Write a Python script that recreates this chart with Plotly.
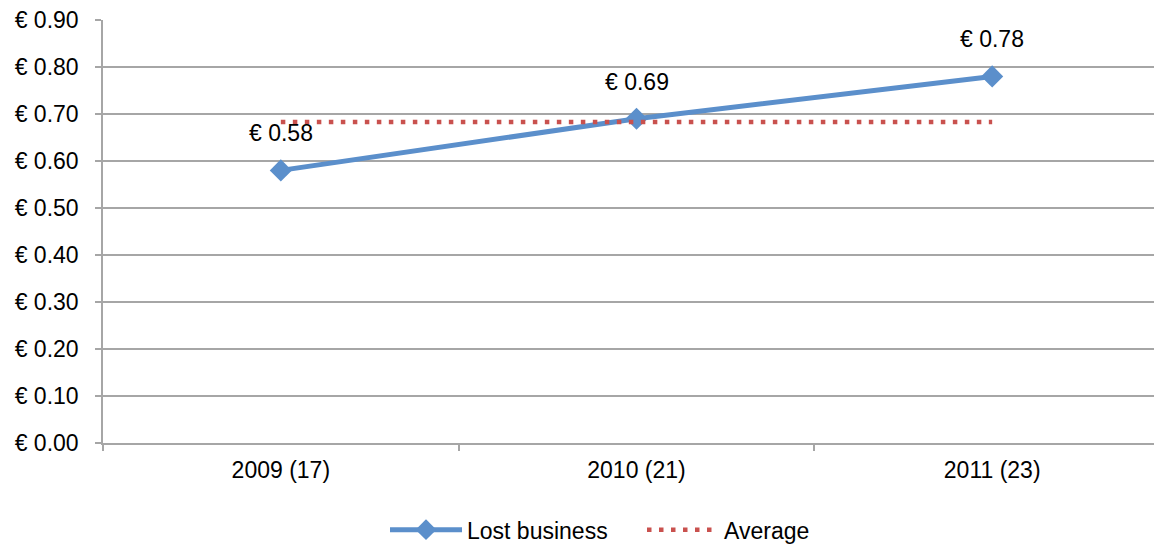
import plotly.graph_objects as go

categories = ["2009 (17)", "2010 (21)", "2011 (23)"]
lost_business = [0.58, 0.69, 0.78]
average_value = 0.683
average = [average_value] * len(categories)
y_ticks = [0.0, 0.1, 0.2, 0.3, 0.4, 0.5, 0.6, 0.7, 0.8, 0.9]
y_tick_text = ["€ %.2f" % v for v in y_ticks]
label_text = ["€ %.2f" % v for v in lost_business]

FONT = "Liberation Sans, Arial, sans-serif"
FS = 23
BLUE = "#5B8FCB"
RED = "#C9514E"
GRID = "#A6A6A6"

fig = go.Figure()
fig.add_trace(go.Scatter(
    x=categories, y=lost_business, name="Lost business",
    mode="lines+markers",
    line=dict(color=BLUE, width=5),
    marker=dict(symbol="diamond", size=17, color=BLUE),
))
fig.add_trace(go.Scatter(
    x=categories, y=average, name="Average",
    mode="lines",
    line=dict(color=RED, width=4.5, dash="4.5px,7.5px"),
))

for c, v, t in zip(categories, lost_business, label_text):
    fig.add_annotation(x=c, y=v, text=t, showarrow=False, yshift=37,
                       font=dict(family=FONT, size=FS, color="#000"))

fig.update_layout(
    width=1162, height=544,
    margin=dict(l=95, r=0, t=12, b=109),
    plot_bgcolor="white", paper_bgcolor="white",
    font=dict(family=FONT, size=FS, color="#000"),
    showlegend=True,
    legend=dict(orientation="h", x=(377 - 95) / 1067, xanchor="left",
                y=-0.205, yanchor="middle",
                font=dict(family=FONT, size=FS, color="#000"),
                itemwidth=72, tracegroupgap=0,
                entrywidth=170, entrywidthmode="pixels",
                bgcolor="rgba(0,0,0,0)"),
    xaxis=dict(type="category", tickson="boundaries", ticks="outside",
               ticklen=6, tickcolor=GRID, tickwidth=1.5,
               showline=True, linecolor=GRID, linewidth=1.5,
               showgrid=False, zeroline=False,
               range=[-0.5, 2.5], ticklabelstandoff=6,
               tickfont=dict(family=FONT, size=FS, color="#000")),
    yaxis=dict(range=[0, 0.9], tickvals=y_ticks, ticktext=y_tick_text,
               ticks="outside", ticklen=6, tickcolor=GRID, tickwidth=1.5,
               showline=True, linecolor=GRID, linewidth=1.5,
               showgrid=True, gridcolor=GRID, gridwidth=1.5,
               zeroline=False, ticklabeloverflow="allow",
               ticklabelstandoff=12,
               tickfont=dict(family=FONT, size=FS, color="#000")),
)

fig.write_html("out.html")
